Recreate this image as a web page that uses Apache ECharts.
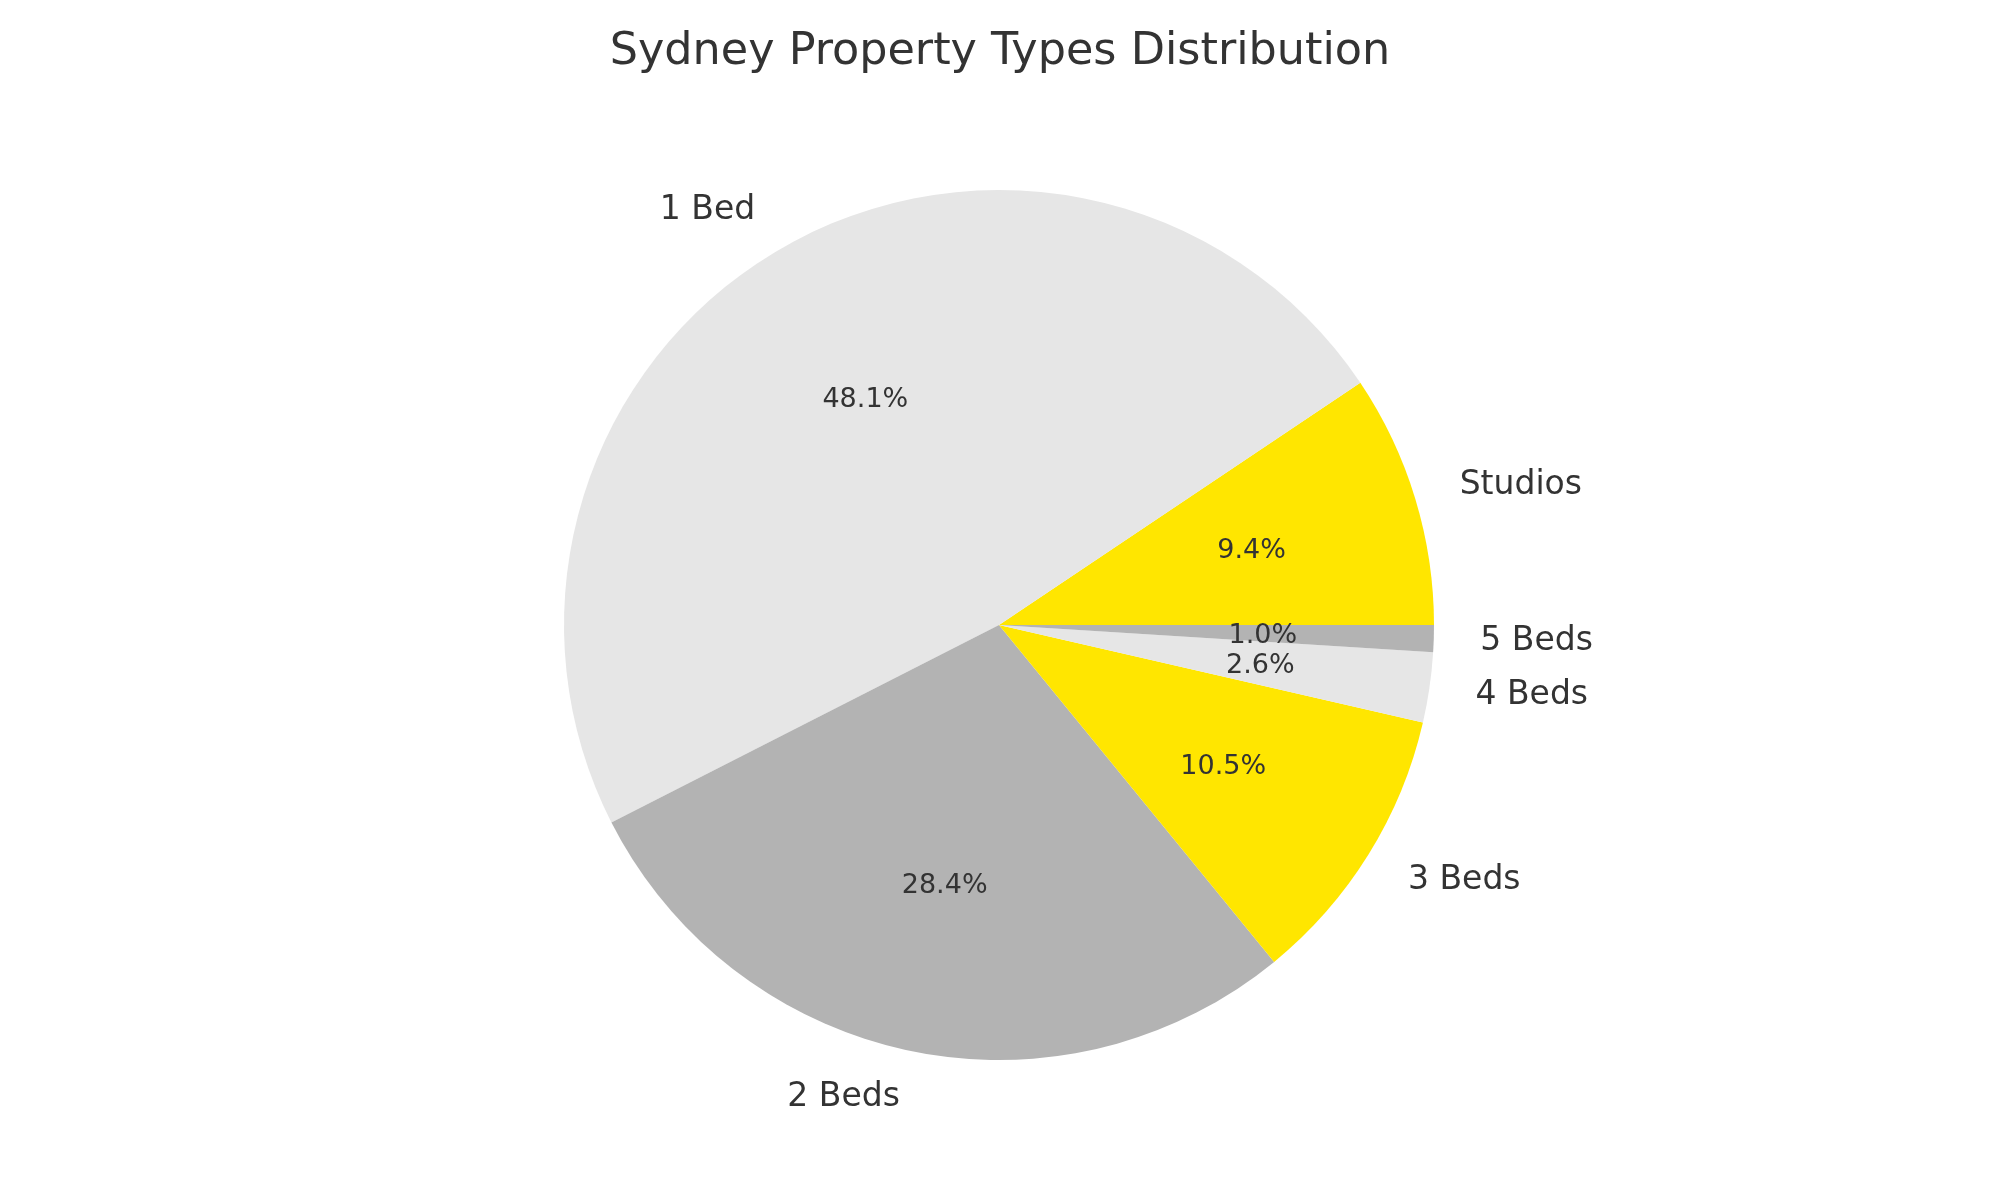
<!DOCTYPE html>
<html><head><meta charset="utf-8">
<script src="https://cdn.jsdelivr.net/npm/echarts@6/dist/echarts.min.js"></script>
<style>html,body{margin:0;padding:0;background:#fff}#c{width:2000px;height:1200px}</style>
</head><body><div id="c"></div>
<script>
const categories = ['Studios', '1 Bed', '2 Beds', '3 Beds', '4 Beds', '5 Beds'];
const shares = [9.4, 48.1, 28.4, 10.5, 2.6, 1.0];
const colors = ['#FFE600', '#E6E6E6', '#B3B3B3', '#FFE600', '#E6E6E6', '#B3B3B3'];

const R = 435;
const center = [999, 625];
const font = 'DejaVu Sans';
const textColor = '#333333';

// mid-angle of each slice (counter-clockwise from 0deg) to decide label alignment
const total = shares.reduce((a, b) => a + b, 0);
let acc = 0;
const mids = shares.map(v => { const m = (acc + v / 2) / total * 360; acc += v; return m; });

const chart = echarts.init(document.getElementById('c'), null, {renderer: 'canvas'});
chart.setOption({
  backgroundColor: '#ffffff',
  animation: false,
  title: {
    text: 'Sydney Property Types Distribution',
    left: 'center', top: 25,
    textStyle: {fontFamily: font, fontSize: 44.5, fontWeight: 'normal', color: textColor}
  },
  series: [
    {
      type: 'pie', center: center, radius: [0, R],
      startAngle: 0, clockwise: false, silent: true,
      label: {show: false}, labelLine: {show: false},
      data: categories.map((c, i) => ({name: c, value: shares[i], itemStyle: {color: colors[i]}}))
    },
    {
      // percentage labels at 0.6 R
      type: 'pie', center: center, radius: [0, R * 1.2],
      startAngle: 0, clockwise: false, silent: true, z: 5,
      itemStyle: {color: 'rgba(0,0,0,0)'},
      label: {
        show: true, position: 'inside', fontFamily: font, fontSize: 27, color: textColor,
        formatter: p => p.value.toFixed(1) + '%'
      },
      labelLayout: () => ({dy: 2.5}),
      labelLine: {show: false},
      data: categories.map((c, i) => ({name: c, value: shares[i]}))
    },
    {
      // category labels at 1.1 R
      type: 'pie', center: center, radius: [R, R * 1.2],
      startAngle: 0, clockwise: false, silent: true, z: 5,
      itemStyle: {color: 'rgba(0,0,0,0)'},
      labelLine: {show: false},
      label: {
        show: true, position: 'inside', fontFamily: font, fontSize: 33, color: textColor,
        formatter: '{b}'
      },
      labelLayout: p => ({
        align: Math.cos(mids[p.dataIndex] * Math.PI / 180) >= 0 ? 'left' : 'right',
        verticalAlign: 'middle',
        dy: 1
      }),
      data: categories.map((c, i) => ({name: c, value: shares[i]}))
    }
  ]
});
</script></body></html>
